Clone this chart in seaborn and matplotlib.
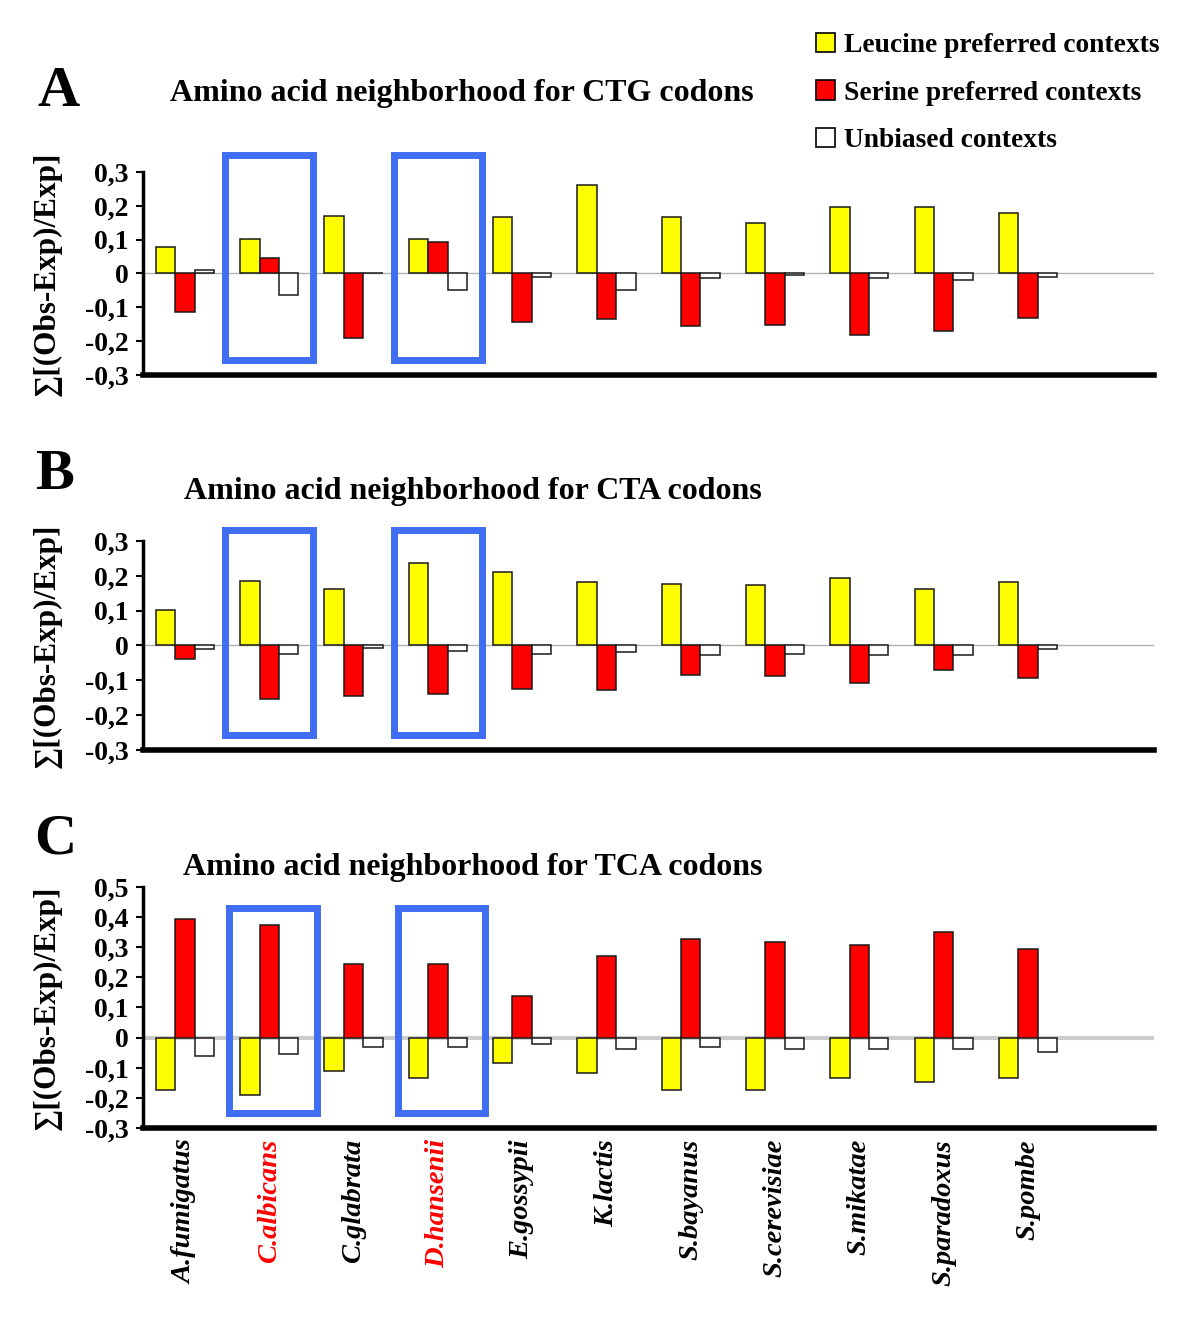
import pandas as pd
import matplotlib
matplotlib.use('Agg')
import matplotlib.pyplot as plt
import seaborn as sns
from matplotlib.patches import Rectangle, Patch

# species and contexts
species = ['A.fumigatus', 'C.albicans', 'C.glabrata', 'D.hansenii', 'E.gossypii',
           'K.lactis', 'S.bayanus', 'S.cerevisiae', 'S.mikatae', 'S.paradoxus', 'S.pombe']
highlight = ['C.albicans', 'D.hansenii']
contexts = ['Leucine preferred contexts', 'Serine preferred contexts', 'Unbiased contexts']

# CTG codons (panel A)
ctg_leu = [0.078, 0.102, 0.171, 0.102, 0.168, 0.263, 0.167, 0.150, 0.196, 0.196, 0.180]
ctg_ser = [-0.113, 0.047, -0.191, 0.094, -0.143, -0.135, -0.155, -0.152, -0.181, -0.169, -0.131]
ctg_unb = [0.009, -0.065, 0.0, -0.048, -0.010, -0.048, -0.014, -0.006, -0.014, -0.019, -0.009]

# CTA codons (panel B)
cta_leu = [0.102, 0.186, 0.162, 0.238, 0.210, 0.182, 0.177, 0.173, 0.193, 0.161, 0.182]
cta_ser = [-0.040, -0.153, -0.145, -0.140, -0.124, -0.129, -0.084, -0.089, -0.108, -0.069, -0.093]
cta_unb = [-0.011, -0.024, -0.008, -0.015, -0.024, -0.020, -0.028, -0.024, -0.028, -0.028, -0.011]

# TCA codons (panel C)
tca_leu = [-0.175, -0.192, -0.111, -0.134, -0.084, -0.117, -0.174, -0.174, -0.134, -0.146, -0.134]
tca_ser = [0.392, 0.375, 0.243, 0.243, 0.139, 0.272, 0.328, 0.318, 0.306, 0.352, 0.294]
tca_unb = [-0.061, -0.054, -0.032, -0.032, -0.020, -0.037, -0.032, -0.037, -0.037, -0.037, -0.048]

ticks_ab = [0.3, 0.2, 0.1, 0, -0.1, -0.2, -0.3]
ticks_c = [0.5, 0.4, 0.3, 0.2, 0.1, 0, -0.1, -0.2, -0.3]

sns.set_theme(style='white')
plt.rcParams['font.family'] = ['Liberation Serif', 'DejaVu Serif']
plt.rcParams['font.weight'] = 'bold'
for key in ['text.color', 'axes.labelcolor', 'xtick.color', 'ytick.color']:
    plt.rcParams[key] = 'black'

palette = dict(zip(contexts, ['#ffff00', '#ff0000', '#ffffff']))
blue = '#3f6ef2'

fig = plt.figure(figsize=(12, 13.23), dpi=100)

panels = [
    # letter, title, data, ticks, axes rect, letter pos, title pos, box y, box x shift, zero line
    ('A', 'Amino acid neighborhood for CTG codons', (ctg_leu, ctg_ser, ctg_unb), ticks_ab,
     [0.119, 0.7166, 0.843, 0.1534], (58, 92), (462, 93), (-0.256, 0.349), 0.0, ('#b0b0b0', 1)),
    ('B', 'Amino acid neighborhood for CTA codons', (cta_leu, cta_ser, cta_unb), ticks_ab,
     [0.119, 0.4331, 0.843, 0.158], (55, 475), (473, 492), (-0.256, 0.332), 0.0, ('#b0b0b0', 1)),
    ('C', 'Amino acid neighborhood for TCA codons', (tca_leu, tca_ser, tca_unb), ticks_c,
     [0.119, 0.1474, 0.843, 0.1822], (55, 840), (473, 867), (-0.25, 0.43), 0.045, ('#cccccc', 3)),
]

for k, (letter, title, vals, ticks, rect, lpos, tpos, boxy, bshift, zl) in enumerate(panels):
    ax = fig.add_axes(rect)
    df = pd.DataFrame({
        'species': species * 3,
        'context': [c for c in contexts for _ in species],
        'value': list(vals[0]) + list(vals[1]) + list(vals[2]),
    })
    ax.axhline(0, color=zl[0], lw=zl[1], zorder=0)
    sns.barplot(data=df, x='species', y='value', hue='context', order=species,
                hue_order=contexts, palette=palette, saturation=1, width=0.69,
                edgecolor='#1a1a1a', linewidth=1.1, legend=False, ax=ax, zorder=2)
    ax.set_xlim(-0.5, len(species) + 0.5)
    ax.set_ylim(min(ticks), max(ticks))
    ax.set_yticks(ticks)
    ax.set_yticklabels([f'{t:g}'.replace('.', ',') for t in ticks])
    ax.tick_params(axis='y', left=True, length=5, width=1.5, labelsize=20, pad=5)
    ax.set_xlabel('')
    ax.set_ylabel('∑[(Obs-Exp)/Exp]', fontsize=22.5, fontweight='bold')
    ax.yaxis.set_label_coords(-0.080, 0.5)
    for s in ['top', 'right']:
        ax.spines[s].set_visible(False)
    ax.spines['left'].set_linewidth(2.5)
    ax.spines['left'].set_color('black')
    ax.spines['bottom'].set_linewidth(4)
    ax.spines['bottom'].set_color('black')

    if k < 2:
        ax.set_xticks(range(len(species)))
        ax.set_xticklabels([])
        ax.tick_params(axis='x', bottom=False)
    else:
        ax.set_xticks(range(len(species)))
        ax.set_xticklabels(species, rotation=90, fontsize=20.5, fontstyle='italic',
                           fontweight='bold', va='top', ha='center')
        ax.tick_params(axis='x', bottom=False, pad=2)
        for lab in ax.get_xticklabels():
            if lab.get_text() in highlight:
                lab.set_color('#ff0000')

    for name in highlight:
        i = species.index(name)
        ax.add_patch(Rectangle((i - 0.52 + bshift, boxy[0]), 1.04, boxy[1] - boxy[0],
                               fill=False, ec=blue, lw=5, clip_on=False, zorder=5))

    fig.text(lpos[0] / 1200, 1 - lpos[1] / 1323, letter, ha='center', va='center',
             fontsize=42, fontweight='bold')
    fig.text(tpos[0] / 1200, 1 - tpos[1] / 1323, title, ha='center', va='center',
             fontsize=23, fontweight='bold')

handles = [Patch(facecolor=palette[c], edgecolor='black', linewidth=1.2) for c in contexts]
fig.legend(handles=handles, labels=contexts, loc='upper left',
           bbox_to_anchor=(816 / 1200, 1 - 33 / 1323), frameon=False, fontsize=19.8,
           handlelength=0.7, handleheight=0.7, handletextpad=0.3, labelspacing=0.8,
           borderpad=0, borderaxespad=0)

fig.savefig('out.png', dpi=100, facecolor='white')
